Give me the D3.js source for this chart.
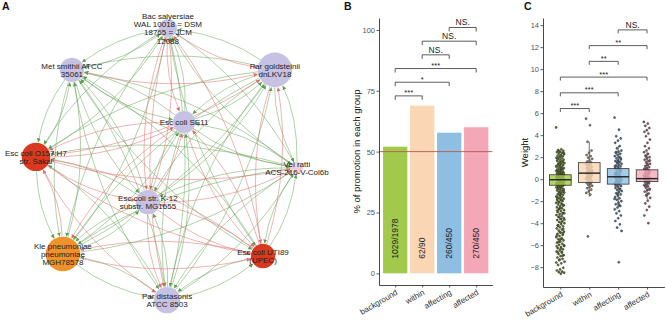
<!DOCTYPE html>
<html>
<head>
<meta charset="utf-8">
<script src="https://cdn.jsdelivr.net/npm/d3@7"></script>
<style>
body{margin:0;background:#fff}
svg{display:block;font-family:"Liberation Sans",Arial,sans-serif}
</style>
</head>
<body>
<svg id="fig" width="666" height="320"></svg>
<script>
//===================== DATA =====================

// A: network nodes (layout units 0-100)
const nodeLines = [
	['Bac salyersiae', 'WAL 10018 = DSM', '18765 = JCM', '12088'],
	['Par goldsteinii', 'dnLKV18'],
	['Met smithii ATCC', '35061'],
	['Esc coli SE11'],
	['Esc coli O157:H7', 'str. Sakai'],
	['Vei ratti', 'ACS-216-V-Col6b'],
	['Esc coli str. K-12', 'substr. MG1655'],
	['Kle pneumoniae', 'pneumoniae', 'MGH78578'],
	['Esc coli UTI89', '(UPEC)'],
	['Par distasonis', 'ATCC 8503']
]
const nodeX = [51.0, 87.9, 17.9, 56.6, 5.5, 95.5, 44.1, 14.8, 83.8, 50.7]
const nodeY = [2.8, 17.2, 17.2, 35.2, 47.2, 51.0, 62.8, 80.7, 81.4, 96.6]
const nodeSize = [81, 289, 144, 121, 196, 36, 144, 289, 144, 169]
const nodeGroup = ['c', 'c', 'c', 'c', 'p', 'v', 'c', 'k', 'p', 'c']

// rows = source, columns = target; g = promotion, r = inhibition
const edgeSigns = [
	'.rgrggrggr',
	'g.ggggggrg',
	'gr.ggggggg',
	'ggg.rggrrg',
	'grgr.rrgrr',
	'ggggg.gggg',
	'rggrgr.grr',
	'ggggrgg.rg',
	'rrgrrgrr.g',
	'ggggggggg.'
]

// B: promotion per group
const groups = ['background', 'within', 'affecting', 'affected']
const promoted = [1029, 62, 260, 270]
const totals = [1978, 90, 450, 450]
const pairs = [[0, 1], [0, 2], [0, 3], [1, 2], [1, 3], [2, 3]]
const sigB = ['***', '*', '***', 'NS.', 'NS.', 'NS.']
const ticksB = [0, 25, 50, 75, 100]

// C: weights per group
const boxQ1 = [-0.55, -0.3, -0.45, -0.22]
const boxMed = [-0.05, 0.55, 0.22, 0.05]
const boxQ3 = [0.4, 1.5, 0.96, 0.85]
const whiskLo = [-1.97, -1.6, -2.57, -1.82]
const whiskHi = [1.82, 3.4, 3.0, 2.45]
const sigC = ['***', '***', '***', '**', '**', 'NS.']
const ticksC = [-8, -6, -4, -2, 0, 2, 4, 6, 8, 10, 12, 14]

const weightsBackground = [4.7, 2.72, 2.65, 2.58, 2.5, 2.46, 2.4, 2.33, 2.27, 2.2, 2.14, 2.08, 2.01, 1.95, 1.9, 1.84, 1.77, 1.7, 1.66, 1.6, 1.53, 1.47, 1.42, 1.36, 1.3, 1.25, 1.19, 1.12, 1.07, 1.01, 0.96, 0.9, 0.86, 0.81, 0.76, 0.71, 0.66, 0.62, 0.57, 0.52, 0.48, 0.44, 0.39, 0.35, 0.31, 0.27, 0.22, 0.18, 0.14, 0.1, 0.06, 0.02, -0.02, -0.06, -0.1, -0.14, -0.18, -0.22, -0.27, -0.31, -0.35, -0.4, -0.44, -0.49, -0.53, -0.58, -0.63, -0.68, -0.74, -0.8, -0.86, -0.91, -0.97, -1.03, -1.1, -1.16, -1.22, -1.29, -1.35, -1.42, -1.49, -1.55, -1.62, -1.7, -1.77, -1.84, -1.92, -2.0, -2.07, -2.15, -2.23, -2.31, -2.4, -2.48, -2.56, -2.65, -2.73, -2.82, -2.9, -2.99, -3.08, -3.17, -3.26, -3.35, -3.44, -3.53, -3.62, -3.72, -3.81, -3.9, -4.0, -4.1, -4.19, -4.29, -4.38, -4.48, -4.58, -4.67, -4.77, -4.87, -4.97, -5.07, -5.17, -5.27, -5.37, -5.47, -5.57, -5.67, -5.77, -5.87, -5.97, -6.07, -6.17, -6.27, -6.37, -6.48, -6.58, -6.68, -6.79, -6.9, -7.0, -7.12, -7.24, -7.36, -7.5, -7.65, -7.8, -8.05, -8.2, -8.3, -8.4, -8.45, -8.5, -8.6, 0.3, 0.1, -0.2, -0.4, 0.5, -0.7, -1.0, -1.4, -1.8, -2.3, -2.7, -3.1, -3.6, -4.2, -4.9, -5.5, -6.1, -6.6, 2.55, 2.37, 2.12, 1.87, 1.58, 1.33, 1.15, 0.93, 0.74, 0.55, 0.37, 0.2, -0.08, -0.25, -0.46, -0.65, -0.88, -1.13, -1.38, -1.6, -1.88, -2.11, -2.36, -2.61, -2.86, -3.13, -3.4, -3.67, -3.95, -4.24, -4.53, -4.82, -5.12, -5.42, -5.72, -6.02, -6.32, -6.63, -6.95, -7.3, -7.58]
const weightsWithin = [5.5, 4.9, 3.4, 2.6, 2.4, 2.2, 2.1, 1.95, 1.85, 1.7, 1.6, 1.5, 1.42, 1.35, 1.28, 1.2, 1.12, 1.05, 0.98, 0.9, 0.84, 0.78, 0.72, 0.66, 0.6, 0.55, 0.5, 0.45, 0.4, 0.34, 0.28, 0.22, 0.16, 0.1, 0.04, -0.02, -0.1, -0.18, -0.25, -0.33, -0.42, -0.5, -0.6, -0.7, -0.82, -0.95, -1.1, -1.25, -1.4, -5.2]
const weightsAffecting = [5.6, 4.5, 3.9, 3.7, 3.5, 3.3, 3.0, 2.8, 2.6, 2.5, 2.4, 2.3, 2.2, 2.1, 2.0, 1.9, 1.8, 1.72, 1.64, 1.56, 1.48, 1.4, 1.32, 1.24, 1.16, 1.08, 1.0, 0.93, 0.86, 0.79, 0.72, 0.65, 0.58, 0.51, 0.44, 0.37, 0.3, 0.24, 0.18, 0.12, 0.06, 0.0, -0.06, -0.12, -0.19, -0.26, -0.33, -0.4, -0.47, -0.55, -0.63, -0.71, -0.8, -0.89, -0.98, -1.08, -1.18, -1.28, -1.39, -1.5, -1.62, -1.74, -1.87, -2.0, -2.14, -2.28, -2.43, -2.58, -2.74, -2.9, -3.1, -3.3, -3.55, -3.8, -4.1, -4.4, -4.7, -7.55, 2.45, 1.95, 1.6, 1.2, 0.83, 0.48, 0.15, -0.22, -0.58, -0.94, -1.33, -1.8, -2.35]
const weightsAffected = [5.2, 5.05, 4.85, 4.65, 4.45, 4.3, 4.15, 3.9, 3.6, 3.3, 3.0, 2.8, 2.6, 2.45, 2.3, 2.15, 2.0, 1.88, 1.76, 1.64, 1.52, 1.4, 1.3, 1.2, 1.1, 1.0, 0.92, 0.84, 0.76, 0.68, 0.6, 0.53, 0.46, 0.39, 0.32, 0.26, 0.2, 0.14, 0.08, 0.02, -0.04, -0.1, -0.16, -0.23, -0.3, -0.38, -0.46, -0.55, -0.65, -0.76, -0.88, -1.0, -1.14, -1.3, -1.48, -1.7, -1.95, -2.2, -2.5, -2.8, -3.3, -4.0, 2.05, 1.7, 1.35, 0.97, 0.65, 0.35, 0.05, -0.27, -0.6, -0.95, -1.4]
const weights = [weightsBackground, weightsWithin, weightsAffecting, weightsAffected]

//===================== STYLE =====================

const groupColor = d3.scaleOrdinal().domain(groups).range(['#a2c84c', '#fbd6b4', '#8ebee2', '#f4a7b6'])
const nodeColor = d3.scaleOrdinal().domain(['c', 'p', 'v', 'k']).range(['#c7c2e3', '#d9391f', '#f6cdd6', '#f0922b'])
const edgeColor = {g: '#5c9e4f', r: '#e06a6a'}
const axisColor = '#333'
const tickColor = '#555'

const svg = d3.select('#fig')

svg.append('rect').attr('width', 666).attr('height', 320).attr('fill', '#fff')

// panel letters
svg.selectAll('.letter')
.data([['A', 2], ['B', 344], ['C', 524]])
.enter()
.append('text')
.attr('x', d => d[1])
.attr('y', 10)
.attr('font-size', 10.5)
.attr('font-weight', 'bold')
.attr('fill', '#111')
.text(d => d[0])

//===================== A: NETWORK =====================

const sx = d3.scaleLinear().domain([0, 100]).range([20, 310])
const sy = d3.scaleLinear().domain([0, 100]).range([20, 310])
const rScale = d3.scaleSqrt().domain([0, 300]).range([0, 17.6])

const nodes = nodeLines.map((lines, i) => ({
	lines: lines,
	x: sx(nodeX[i]),
	y: sy(nodeY[i]),
	r: rScale(nodeSize[i]),
	group: nodeGroup[i]
}))

let edges = []
edgeSigns.forEach((row, i) => {
	row.split('').forEach((c, j) => {
		if(c !== '.') edges.push({s: i, t: j, sign: c})
	})
})
edges.sort((a, b) => (a.sign === 'r') - (b.sign === 'r'))

const defs = svg.append('defs')
Object.entries(edgeColor).forEach(([k, col]) => {
	defs.append('marker')
	.attr('id', 'arrow-' + k)
	.attr('viewBox', '0 -2 4 4')
	.attr('refX', 4)
	.attr('refY', 0)
	.attr('markerWidth', 4)
	.attr('markerHeight', 4)
	.attr('markerUnits', 'userSpaceOnUse')
	.attr('orient', 'auto')
	.append('path')
	.attr('d', 'M0,-2L4,0L0,2Z')
	.attr('fill', col)
})

const edgePath = d => {
	const a = nodes[d.s], b = nodes[d.t]
	const dx = b.x - a.x, dy = b.y - a.y
	const cx = (a.x + b.x) / 2 - dy * 0.12
	const cy = (a.y + b.y) / 2 + dx * 0.12
	const ua = Math.hypot(cx - a.x, cy - a.y)
	const ub = Math.hypot(cx - b.x, cy - b.y)
	const x0 = a.x + (cx - a.x) / ua * a.r
	const y0 = a.y + (cy - a.y) / ua * a.r
	const x1 = b.x + (cx - b.x) / ub * (b.r + 0.5)
	const y1 = b.y + (cy - b.y) / ub * (b.r + 0.5)
	return `M${x0},${y0}Q${cx},${cy} ${x1},${y1}`
}

const net = svg.append('g').attr('class', 'network')

net.append('g')
.selectAll('path')
.data(edges)
.enter()
.append('path')
.attr('d', edgePath)
.attr('fill', 'none')
.attr('stroke', d => edgeColor[d.sign])
.attr('stroke-opacity', d => d.sign === 'r' ? 0.85 : 0.8)
.attr('stroke-width', 0.6)
.attr('marker-end', d => `url(#arrow-${d.sign})`)

net.append('g')
.selectAll('circle')
.data(nodes)
.enter()
.append('circle')
.attr('cx', d => d.x)
.attr('cy', d => d.y)
.attr('r', d => d.r)
.attr('fill', d => nodeColor(d.group))

const nodeLabels = net.append('g')
.selectAll('text')
.data(nodes)
.enter()
.append('text')
.attr('text-anchor', 'middle')
.attr('font-size', 8)
.attr('fill', '#222')

nodeLabels.selectAll('tspan')
.data(d => d.lines.map((l, k) => ({l: l, k: k, n: d.lines.length, x: d.x, y: d.y})))
.enter()
.append('tspan')
.attr('x', d => d.x)
.attr('y', d => d.y + (d.k - (d.n - 1) / 2) * 8.4 + 3)
.text(d => d.l)

//===================== B: BAR CHART =====================

const pct = promoted.map((p, i) => p / totals[i] * 100)

const xB = d3.scalePoint().domain(groups).range([379, 492.4]).padding(0.6)
const yB = d3.scaleLinear().domain([-4.8, 104.9]).range([285, 18])
const bwB = xB.step() * 0.9

const gB = svg.append('g')

gB.selectAll('rect')
.data(groups)
.enter()
.append('rect')
.attr('x', d => xB(d) - bwB / 2)
.attr('width', bwB)
.attr('y', (d, i) => yB(pct[i]))
.attr('height', (d, i) => yB(0) - yB(pct[i]))
.attr('fill', d => groupColor(d))

gB.selectAll('.barlabel')
.data(groups)
.enter()
.append('text')
.attr('transform', d => `translate(${xB(d) + 3},${yB(6)}) rotate(-90)`)
.attr('font-size', 8.5)
.attr('fill', '#222')
.text((d, i) => `${promoted[i]}/${totals[i]}`)

gB.append('line')
.attr('x1', 379)
.attr('x2', 492.4)
.attr('y1', yB(50))
.attr('y2', yB(50))
.attr('stroke', '#b9584c')
.attr('stroke-width', 0.9)

const styleAxis = g => {
	g.select('.domain').attr('stroke', axisColor).attr('stroke-width', 0.9)
	g.selectAll('.tick line').attr('stroke', axisColor).attr('stroke-width', 0.8)
	g.selectAll('.tick text').attr('fill', tickColor).attr('font-size', 7.5)
}

gB.append('g')
.attr('transform', 'translate(379,0)')
.call(d3.axisLeft(yB).tickValues(ticksB).tickSize(2.5).tickSizeOuter(0).tickPadding(1.5))
.call(styleAxis)

gB.append('g')
.attr('transform', 'translate(0,285)')
.call(d3.axisBottom(xB).tickSize(2.5).tickSizeOuter(0).tickFormat(''))
.call(styleAxis)

const xLabels = (g, xs, y0) => {
	g.selectAll('.xlab')
	.data(groups)
	.enter()
	.append('text')
	.attr('transform', d => `translate(${xs(d) + 3},${y0}) rotate(-30)`)
	.attr('text-anchor', 'end')
	.attr('font-size', 8)
	.attr('fill', '#333')
	.text(d => d)
}
xLabels(gB, xB, 294)

gB.append('text')
.attr('transform', `translate(360,${(285 + 18) / 2}) rotate(-90)`)
.attr('text-anchor', 'middle')
.attr('font-size', 9.5)
.attr('fill', '#111')
.text('% of promotion in each group')

const brackets = (g, xs, ys, sig, base, step, tick) => {
	pairs.forEach((p, i) => {
		const y = ys(base + i * step)
		const x0 = xs(groups[p[0]]), x1 = xs(groups[p[1]])
		g.append('path')
		.attr('d', `M${x0},${y + tick}V${y}H${x1}V${y + tick}`)
		.attr('fill', 'none')
		.attr('stroke', axisColor)
		.attr('stroke-width', 0.8)
		g.append('text')
		.attr('x', (x0 + x1) / 2)
		.attr('y', sig[i] === 'NS.' ? y - 2 : y - 0.5)
		.attr('text-anchor', 'middle')
		.attr('font-size', sig[i] === 'NS.' ? 8.5 : 7.5)
		.attr('fill', '#222')
		.text(sig[i])
	})
}
brackets(gB, xB, yB, sigB, 72.9, 5.62, 4)

//===================== C: BOX + JITTER =====================

const xC = d3.scalePoint().domain(groups).range([543, 664.4]).padding(0.6)
const yC = d3.scaleLinear().domain([-9.8, 14.65]).range([287, 18])
const bwC = xC.step() * 0.75

const gC = svg.append('g')

gC.selectAll('.whisker')
.data(groups)
.enter()
.append('path')
.attr('d', (d, i) => `M${xC(d)},${yC(whiskHi[i])}V${yC(boxQ3[i])}M${xC(d)},${yC(boxQ1[i])}V${yC(whiskLo[i])}`)
.attr('stroke', '#333')
.attr('stroke-width', 0.7)

const jitterW = [4.2, 3.2, 3.6, 3.2]
groups.forEach((g, gi) => {
	gC.append('g')
	.selectAll('circle')
	.data(weights[gi])
	.enter()
	.append('circle')
	.attr('cx', (d, i) => xC(g) + ((i * 0.618034) % 1 - 0.5) * 2 * jitterW[gi])
	.attr('cy', d => yC(d))
	.attr('r', 1.1)
	.attr('fill', d3.color(groupColor(g)).darker(1.6))
	.attr('stroke', '#111')
	.attr('stroke-width', 0.35)
})

gC.selectAll('.boxline')
.data(groups)
.enter()
.append('rect')
.attr('x', d => xC(d) - bwC / 2)
.attr('width', bwC)
.attr('y', (d, i) => yC(boxQ3[i]))
.attr('height', (d, i) => yC(boxQ1[i]) - yC(boxQ3[i]))
.attr('fill', d => groupColor(d))
.attr('fill-opacity', 0.8)
.attr('stroke', '#333')
.attr('stroke-width', 0.8)

gC.selectAll('.median')
.data(groups)
.enter()
.append('line')
.attr('x1', d => xC(d) - bwC / 2)
.attr('x2', d => xC(d) + bwC / 2)
.attr('y1', (d, i) => yC(boxMed[i]))
.attr('y2', (d, i) => yC(boxMed[i]))
.attr('stroke', '#222')
.attr('stroke-width', 1.4)

gC.append('g')
.attr('transform', 'translate(543,0)')
.call(d3.axisLeft(yC).tickValues(ticksC).tickSize(2.5).tickSizeOuter(0).tickPadding(1.5))
.call(styleAxis)

gC.append('g')
.attr('transform', 'translate(0,287)')
.call(d3.axisBottom(xC).tickSize(2.5).tickSizeOuter(0).tickFormat(''))
.call(styleAxis)

xLabels(gC, xC, 296)

gC.append('text')
.attr('transform', `translate(528,${(287 + 18) / 2}) rotate(-90)`)
.attr('text-anchor', 'middle')
.attr('font-size', 9.5)
.attr('fill', '#111')
.text('Weight')

brackets(gC, xC, yC, sigC, 6.42, 1.43, 3.5)
</script>
</body>
</html>
